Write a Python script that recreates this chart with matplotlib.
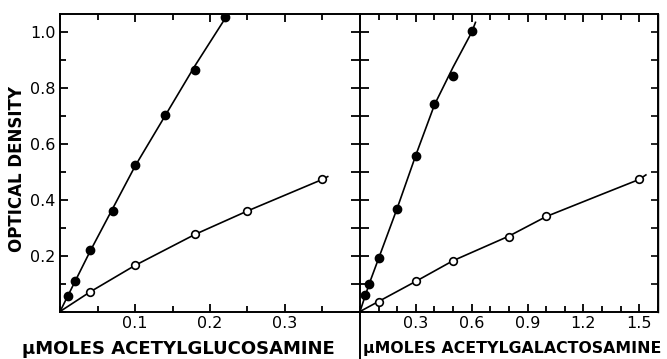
import numpy as np
import matplotlib
matplotlib.use("Agg")
import matplotlib.pyplot as plt
from matplotlib.ticker import MultipleLocator
from matplotlib.lines import Line2D

# Left panel: acetylglucosamine
glc_x_filled = [0.01, 0.02, 0.04, 0.07, 0.10, 0.14, 0.18, 0.22]
glc_y_filled = [0.057, 0.11, 0.22, 0.358, 0.523, 0.702, 0.863, 1.054]
glc_x_open = [0.04, 0.10, 0.18, 0.25, 0.35]
glc_y_open = [0.071, 0.167, 0.278, 0.36, 0.475]
# drawn curves
glc_curve_filled_x = [0.0, 0.04, 0.10, 0.14, 0.18, 0.224]
glc_curve_filled_y = [0.0, 0.215, 0.52, 0.70, 0.88, 1.065]
glc_curve_open_x = [0.0, 0.04, 0.10, 0.18, 0.25, 0.35, 0.357]
glc_curve_open_y = [0.0, 0.07, 0.165, 0.276, 0.36, 0.473, 0.483]

# Right panel: acetylgalactosamine
gal_x_filled = [0.025, 0.05, 0.10, 0.20, 0.30, 0.40, 0.50, 0.60]
gal_y_filled = [0.059, 0.10, 0.19, 0.367, 0.558, 0.744, 0.843, 1.003]
gal_x_open = [0.10, 0.30, 0.50, 0.80, 1.00, 1.50]
gal_y_open = [0.035, 0.108, 0.182, 0.267, 0.342, 0.475]
gal_curve_filled_x = [0.0, 0.05, 0.10, 0.20, 0.30, 0.40, 0.50, 0.60, 0.62]
gal_curve_filled_y = [0.0, 0.10, 0.19, 0.37, 0.56, 0.74, 0.875, 1.0, 1.035]
gal_curve_open_x = [0.0, 0.10, 0.30, 0.50, 0.80, 1.00, 1.30, 1.50, 1.535]
gal_curve_open_y = [0.0, 0.036, 0.108, 0.182, 0.27, 0.34, 0.42, 0.473, 0.489]

y_ticks = [0.2, 0.4, 0.6, 0.8, 1.0]
glc_ticks = [0.1, 0.2, 0.3]
gal_ticks = [0.3, 0.6, 0.9, 1.2, 1.5]

plt.rcParams['font.family'] = ['DejaVu Sans']

fig = plt.figure(figsize=(6.67, 3.59), dpi=100)
ax1 = fig.add_axes([0.090, 0.1323, 0.4497, 0.8287])
ax2 = fig.add_axes([0.5397, 0.1323, 0.4468, 0.8287])


def draw(ax, cfx, cfy, cox, coy, fx, fy, ox, oy):
    ax.plot(cfx, cfy, color='black', lw=1.2, zorder=2)
    ax.plot(cox, coy, color='black', lw=1.2, zorder=2)
    ax.plot(fx, fy, 'o', color='black', ms=6, zorder=3)
    ax.plot(ox, oy, 'o', mfc='white', mec='black', mew=1.2, ms=5.5, zorder=3)
    for s in ax.spines.values():
        s.set_linewidth(1.4)


draw(ax1, glc_curve_filled_x, glc_curve_filled_y, glc_curve_open_x, glc_curve_open_y,
     glc_x_filled, glc_y_filled, glc_x_open, glc_y_open)
draw(ax2, gal_curve_filled_x, gal_curve_filled_y, gal_curve_open_x, gal_curve_open_y,
     gal_x_filled, gal_y_filled, gal_x_open, gal_y_open)

ax1.set_xlim(0, 0.4)
ax1.set_ylim(0, 1.065)
ax2.set_xlim(0, 1.6)
ax2.set_ylim(0, 1.065)

# left panel ticks
ax1.set_xticks(glc_ticks)
ax1.set_xticklabels([f'{v:.1f}' for v in glc_ticks], fontsize=11.5)
ax1.xaxis.set_minor_locator(MultipleLocator(0.05))
ax1.set_yticks(y_ticks)
ax1.set_yticklabels([f'{v:.1f}' for v in y_ticks], fontsize=11.5)
ax1.yaxis.set_minor_locator(MultipleLocator(0.1))
ax1.tick_params(axis='x', which='both', direction='in', top=True, bottom=True, width=1.3, pad=3)
ax1.tick_params(axis='y', which='both', direction='in', left=True, right=False, width=1.3, pad=3)
ax1.tick_params(which='major', length=6)
ax1.tick_params(which='minor', length=4)
ax1.spines['right'].set_visible(False)

# right panel ticks
ax2.set_xticks(gal_ticks)
ax2.set_xticklabels([f'{v:.1f}' for v in gal_ticks], fontsize=11.5)
ax2.xaxis.set_minor_locator(MultipleLocator(0.1))
ax2.tick_params(axis='x', which='both', direction='in', top=True, bottom=True, width=1.3, pad=3)
ax2.tick_params(axis='x', which='major', length=6)
ax2.tick_params(axis='x', which='minor', length=4)
ax2.set_yticks(y_ticks)
ax2.yaxis.set_minor_locator(MultipleLocator(0.1))
ax2.tick_params(axis='y', which='both', direction='inout', left=True, right=False,
                labelleft=False, length=13, width=1.3)
sec = ax2.secondary_yaxis('right')
sec.set_yticks(y_ticks)
sec.yaxis.set_minor_locator(MultipleLocator(0.1))
sec.tick_params(which='both', direction='in', length=5, width=1.2, labelright=False)
sec.spines['right'].set_linewidth(1.0)

# the dividing line runs on down between the two axis titles
fig.add_artist(Line2D([0.5397, 0.5397], [0.0, 0.1323], color='black', lw=1.4,
                      transform=fig.transFigure))

fig.text(0.025, 0.529, 'OPTICAL DENSITY', rotation=90, ha='center', va='center',
         fontsize=12, fontweight='bold')
fig.text(0.267, 0.029, 'µMOLES ACETYLGLUCOSAMINE', ha='center', va='center',
         fontsize=13, fontweight='bold')
fig.text(0.768, 0.029, 'µMOLES ACETYLGALACTOSAMINE', ha='center', va='center',
         fontsize=11.3, fontweight='bold')

fig.savefig('out.png', dpi=100)
